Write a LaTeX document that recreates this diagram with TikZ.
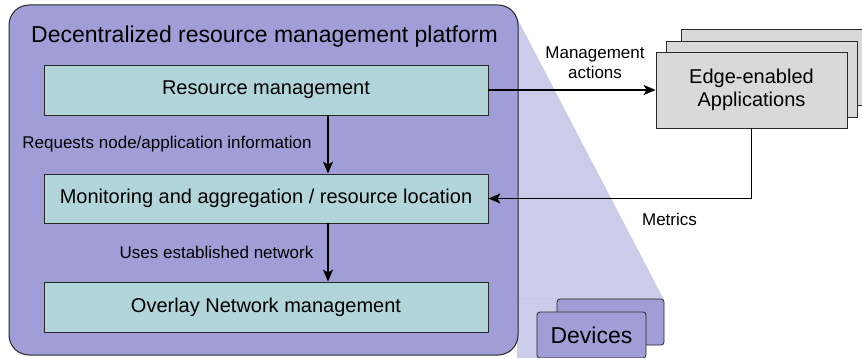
\documentclass[tikz,border=0pt]{standalone}
\usepackage{fontspec}
\setmainfont{Liberation Sans}
\usetikzlibrary{arrows.meta,calc}
\definecolor{platpurple}{RGB}{160,158,214}
\definecolor{lavender}{RGB}{203,203,234}
\definecolor{tealbox}{RGB}{177,213,217}
\definecolor{greybox}{RGB}{217,217,217}
\definecolor{bordergrey}{RGB}{40,40,40}
\tikzset{
  platform/.style={draw=bordergrey, fill=platpurple, line width=1pt, rounded corners=20pt},
  layerbox/.style={draw=bordergrey, fill=tealbox, line width=0.8pt, minimum width=444pt, font=\fontsize{20}{24}\selectfont},
  appbox/.style={draw=bordergrey, fill=greybox, line width=0.8pt, minimum width=191pt, minimum height=76pt, align=center, font=\fontsize{20}{23}\selectfont},
  devbox/.style={draw=bordergrey, fill=platpurple, line width=0.8pt, rounded corners=3pt, minimum height=46pt, font=\fontsize{23}{27}\selectfont},
  conn/.style={draw=black, line width=1.6pt, -{Stealth[length=12pt,width=10pt,inset=3pt]}},
  lbl/.style={font=\fontsize{17}{20}\selectfont, align=center, inner sep=0pt},
}
\begin{document}
\begin{tikzpicture}[x=1pt,y=-1pt]
\useasboundingbox (0,0) rectangle (862,358);
% projection shading
\fill[lavender] (517,18) -- (663,298) -- (600,358) -- (517,358) -- cycle;
\draw[color=lavender!90!platpurple, line width=0.6pt] (518,298) -- (560,298);
% platform
\node[platform, minimum width=509pt, minimum height=350pt, inner sep=0pt] (plat) at (263.5,180) {};
\node[font=\fontsize{23}{27}\selectfont, inner sep=0pt] (title) at (264.5,37) {Decentralized resource management platform};
% layers
\node[layerbox, minimum height=50pt] (rm) at (266,90) {Resource management};
\node[layerbox, minimum height=49pt] (mon) at (266,198.5) {Monitoring and aggregation / resource location};
\node[layerbox, minimum height=50pt] (ovl) at (266,307) {Overlay Network management};
% applications stack
\node[appbox] (appc) at (776.5,67) {};
\node[appbox] (appb) at (761.5,79) {};
\node[appbox] (app) at (751.5,90) {Edge-enabled\\Applications};
% devices
\node[devbox, minimum width=107pt] (devb) at (610.5,322) {};
\node[devbox, minimum width=109pt] (dev) at (591.5,335) {Devices};
% connectors
\draw[conn] (rm.east) -- (app.west);
\draw[conn] (app.south) |- (mon.east);
\draw[conn] ([xshift=62pt]rm.south) -- ([xshift=62pt]mon.north);
\draw[conn] ([xshift=62pt]mon.south) -- ([xshift=62pt]ovl.north);
% labels
\node[lbl] (lma) at (595,63) {Management\\actions};
\node[lbl] (lmet) at (669.5,219) {Metrics};
\node[lbl] (lreq) at (167,144) {Requests node/application information};
\node[lbl] (luse) at (216.5,252) {Uses established network};
\end{tikzpicture}
\end{document}
